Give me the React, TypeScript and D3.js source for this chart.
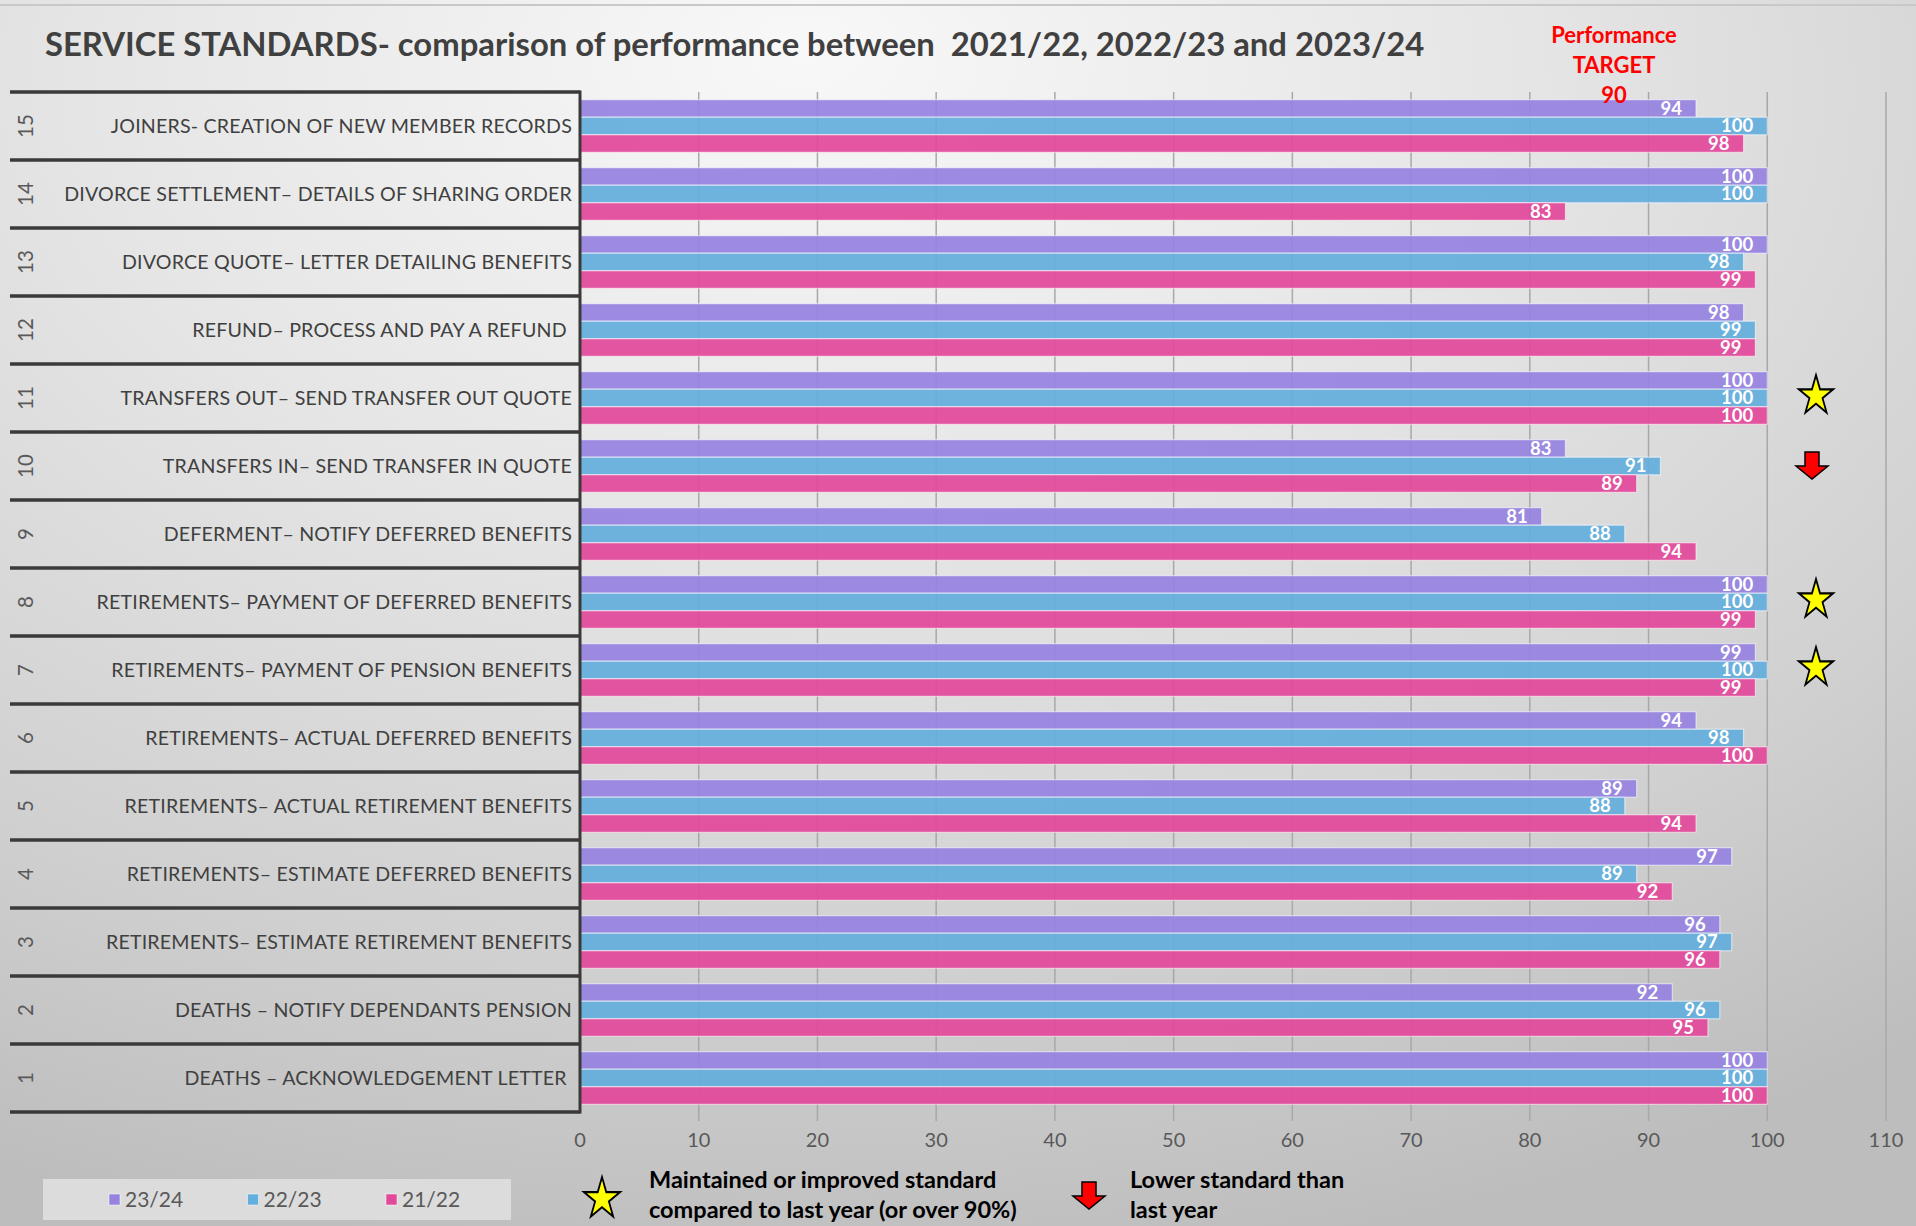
import React from "react";
import * as d3 from "d3";

// chart size, same as the window
const width = 1916;
const height = 1226;

const rowNumbers = [15, 14, 13, 12, 11, 10, 9, 8, 7, 6, 5, 4, 3, 2, 1];
const categories = [
  "JOINERS- CREATION OF NEW MEMBER RECORDS",
  "DIVORCE SETTLEMENT– DETAILS OF SHARING ORDER",
  "DIVORCE QUOTE– LETTER DETAILING BENEFITS",
  "REFUND– PROCESS AND PAY A REFUND ",
  "TRANSFERS OUT– SEND TRANSFER OUT QUOTE",
  "TRANSFERS IN– SEND TRANSFER IN QUOTE",
  "DEFERMENT– NOTIFY DEFERRED BENEFITS",
  "RETIREMENTS– PAYMENT OF DEFERRED BENEFITS",
  "RETIREMENTS– PAYMENT OF PENSION BENEFITS",
  "RETIREMENTS– ACTUAL DEFERRED BENEFITS",
  "RETIREMENTS– ACTUAL RETIREMENT BENEFITS",
  "RETIREMENTS– ESTIMATE DEFERRED BENEFITS",
  "RETIREMENTS– ESTIMATE RETIREMENT BENEFITS",
  "DEATHS – NOTIFY DEPENDANTS PENSION",
  "DEATHS – ACKNOWLEDGEMENT LETTER ",
];

const seriesNames = ["23/24", "22/23", "21/22"];
const values2324 = [94, 100, 100, 98, 100, 83, 81, 100, 99, 94, 89, 97, 96, 92, 100];
const values2223 = [100, 100, 98, 99, 100, 91, 88, 100, 100, 98, 88, 89, 97, 96, 100];
const values2122 = [98, 83, 99, 99, 100, 89, 94, 99, 99, 100, 94, 92, 96, 95, 100];
const seriesColors = ["#9683e0", "#63aedc", "#e2499b"];

const xTicks = [0, 10, 20, 30, 40, 50, 60, 70, 80, 90, 100, 110];
const targetLines = ["Performance", "TARGET", "90"];

// rows that get a star / a red arrow
const improvedRows = [11, 8, 7];
const lowerRows = [10];

const fontMain = "Lato, 'Open Sans', sans-serif";

// margins
const tableLeft = 10;
const plotLeft = 580;
const plotRight = 1886;
const plotTop = 92;
const plotBottom = 1112;

function Star({ x, y, r }: { x: number; y: number; r: number }) {
  const path = d3.symbol(d3.symbolStar, (r * r) / 0.8908130915292852)();
  return (
    <path
      d={path || ""}
      transform={`translate(${x},${y + r * 0.1}) scale(1,1.15)`}
      fill="#ffff00"
      stroke="#000"
      strokeWidth={1.8}
      strokeLinejoin="miter"
    />
  );
}

function DownArrow({ x, y }: { x: number; y: number }) {
  // shaft 14 wide, head 32 wide, total 27 tall
  const p = d3.path();
  p.moveTo(x - 7, y - 14);
  p.lineTo(x + 7, y - 14);
  p.lineTo(x + 7, y);
  p.lineTo(x + 16, y);
  p.lineTo(x, y + 13);
  p.lineTo(x - 16, y);
  p.lineTo(x - 7, y);
  p.closePath();
  return <path d={p.toString()} fill="#ff0000" stroke="#000" strokeWidth={1.5} />;
}

export default function App() {
  const x = d3.scaleLinear().domain([0, 110]).range([plotLeft, plotRight]);
  const y = d3
    .scaleBand<number>()
    .domain(rowNumbers)
    .range([plotTop, plotBottom])
    .paddingInner(0.226)
    .paddingOuter(0.113);
  const rowStep = y.step();
  const rowTop = (n: number) => (y(n) as number) - y.paddingOuter() * rowStep;
  const sub = d3.scaleBand<string>().domain(seriesNames).range([0, y.bandwidth()]);

  const series = [values2324, values2223, values2122];

  const legendX = d3.scalePoint<string>().domain(seriesNames).range([109, 386]);

  return (
    <svg
      width={width}
      height={height}
      style={{ position: "absolute", left: 0, top: 0, fontFamily: fontMain }}
    >
      <defs>
        <radialGradient id="bg" cx="0.42" cy="0.1" r="0.95" fx="0.42" fy="0.04">
          <stop offset="0" stopColor="#f8f8f8" />
          <stop offset="0.4" stopColor="#e5e5e5" />
          <stop offset="0.75" stopColor="#d0d0d0" />
          <stop offset="1" stopColor="#bdbdbd" />
        </radialGradient>
      </defs>
      <rect x={0} y={0} width={width} height={height} fill="url(#bg)" />
      <line x1={0} x2={width} y1={5} y2={5} stroke="#c8c8c8" strokeWidth={2} />

      {/* title */}
      <text
        x={45}
        y={56}
        fontSize={32.8}
        fontWeight={700}
        fill="#404040"
        style={{ whiteSpace: "pre" }}
      >
        SERVICE STANDARDS- comparison of performance between  2021/22, 2022/23 and 2023/24
      </text>

      {/* gridlines */}
      {xTicks.map((t) => (
        <line
          key={"g" + t}
          x1={x(t)}
          x2={x(t)}
          y1={plotTop}
          y2={plotBottom + 9}
          stroke={t === 0 ? "none" : "#a8a8a8"}
          strokeWidth={1.5}
        />
      ))}

      {/* bars */}
      {rowNumbers.map((n, i) => (
        <g key={"row" + n} transform={`translate(0,${y(n)})`}>
          {seriesNames.map((s, j) => {
            const v = series[j][i];
            const by = sub(s) as number;
            return (
              <g key={s}>
                <rect
                  x={x(0)}
                  y={by}
                  width={x(v) - x(0)}
                  height={sub.bandwidth()}
                  fill={seriesColors[j]}
                  fillOpacity={0.93}
                  stroke="#ffffff"
                  strokeOpacity={0.55}
                  strokeWidth={1.2}
                />
                <text
                  x={x(v) - 14}
                  y={by + sub.bandwidth() / 2 + 6.5}
                  textAnchor="end"
                  fontSize={18.5}
                  fontWeight={700}
                  fill="#ffffff"
                >
                  {v}
                </text>
              </g>
            );
          })}
        </g>
      ))}

      {/* axis tick labels */}
      {xTicks.map((t) => (
        <text
          key={"t" + t}
          x={x(t)}
          y={1147}
          textAnchor="middle"
          fontSize={20}
          fill="#595959"
        >
          {t}
        </text>
      ))}

      {/* category table */}
      {rowNumbers.map((n, i) => {
        const top = rowTop(n);
        const mid = top + rowStep / 2;
        return (
          <g key={"lab" + n}>
            <text
              transform={`translate(${tableLeft + 23},${mid}) rotate(-90)`}
              textAnchor="middle"
              fontSize={20.5}
              fill="#595959"
            >
              {n}
            </text>
            <text
              x={plotLeft - 8}
              y={mid + 7}
              textAnchor="end"
              fontSize={19.6}
              fill="#404040"
              letterSpacing={0.2}
              style={{ whiteSpace: "pre" }}
            >
              {categories[i]}
            </text>
          </g>
        );
      })}
      {d3.range(rowNumbers.length + 1).map((k) => (
        <line
          key={"h" + k}
          x1={tableLeft}
          x2={plotLeft}
          y1={plotTop + k * rowStep}
          y2={plotTop + k * rowStep}
          stroke="#3a3a3a"
          strokeWidth={3.5}
        />
      ))}
      <line
        x1={plotLeft}
        x2={plotLeft}
        y1={plotTop - 1.5}
        y2={plotBottom + 1.5}
        stroke="#3a3a3a"
        strokeWidth={3}
      />

      {/* performance target note */}
      {targetLines.map((t, k) => (
        <text
          key={t}
          x={1614}
          y={43 + k * 30}
          textAnchor="middle"
          fontSize={22}
          fontWeight={700}
          fill="#ff0000"
        >
          {t}
        </text>
      ))}

      {/* markers */}
      {improvedRows.map((n) => (
        <Star key={"s" + n} x={1816} y={rowTop(n) + rowStep / 2 - 4} r={18} />
      ))}
      {lowerRows.map((n) => (
        <DownArrow key={"a" + n} x={1812} y={rowTop(n) + rowStep / 2} />
      ))}

      {/* series legend */}
      <rect x={43} y={1179} width={468} height={41} fill="#dcdcdc" />
      {seriesNames.map((s, j) => (
        <g key={"lg" + s}>
          <rect
            x={legendX(s) as number}
            y={1194}
            width={11}
            height={11}
            fill={seriesColors[j]}
            stroke="#fff"
            strokeOpacity={0.5}
          />
          <text x={(legendX(s) as number) + 16} y={1207} fontSize={21} fill="#595959">
            {s}
          </text>
        </g>
      ))}

      {/* marker legend */}
      <Star x={602} y={1197} r={19} />
      <text x={649} y={1188} fontSize={23.5} fontWeight={700} fill="#000">
        Maintained or improved standard
      </text>
      <text x={649} y={1218} fontSize={23.5} fontWeight={700} fill="#000">
        compared to last year (or over 90%)
      </text>
      <DownArrow x={1089} y={1196} />
      <text x={1130} y={1188} fontSize={23.5} fontWeight={700} fill="#000">
        Lower standard than
      </text>
      <text x={1130} y={1218} fontSize={23.5} fontWeight={700} fill="#000">
        last year
      </text>
    </svg>
  );
}
